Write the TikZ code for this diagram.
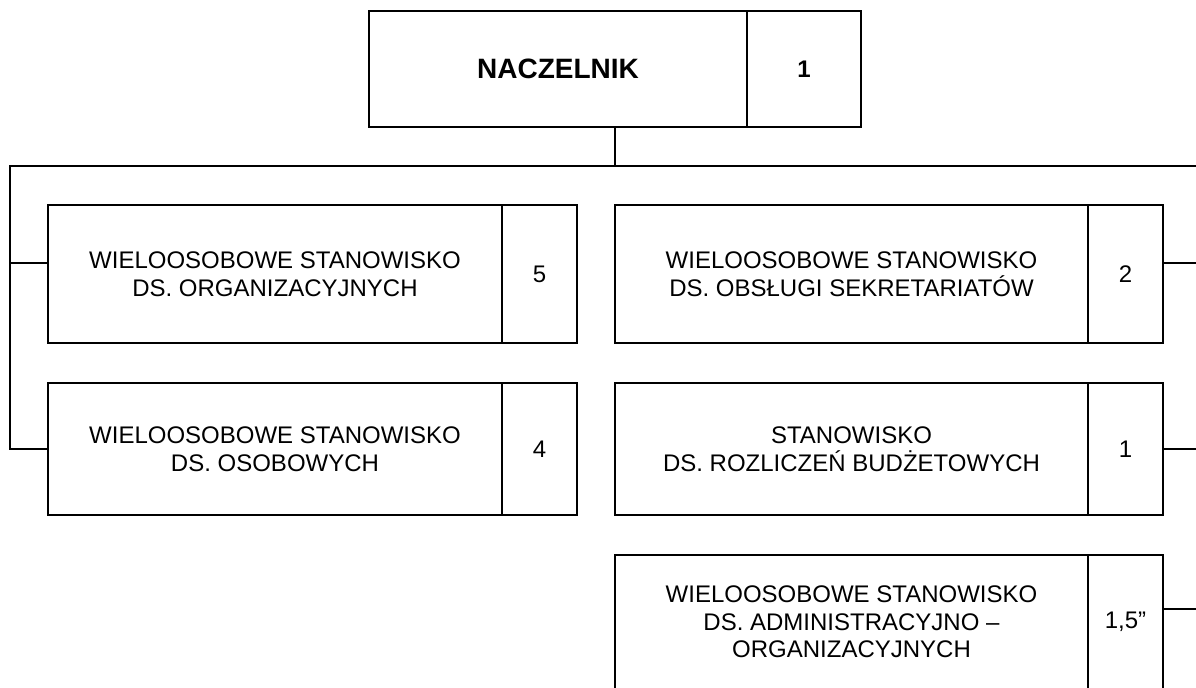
\documentclass[tikz,border=0pt]{standalone}
\usepackage{fontspec}
\setmainfont{Liberation Sans}
\usetikzlibrary{positioning,calc}
\begin{document}
\begin{tikzpicture}[x=0.5pt,y=-0.5pt,line width=1pt,
    every node/.style={outer sep=0pt,inner sep=2pt,font=\fontsize{12}{13.8}\selectfont},
    post/.style={draw,align=center},
    leftpost/.style={post,minimum width=227pt},
    rightpost/.style={post,minimum width=236.5pt},
    count/.style={draw,minimum width=37.5pt}]
  \useasboundingbox (0,0) rectangle (1196,687);
  \clip (0,0) rectangle (1196,687);
  % head of the unit
  \node[post,minimum width=189pt,minimum height=58pt,anchor=north west,
    font=\fontsize{14}{16}\selectfont\bfseries] (chief) at (369,11) {NACZELNIK};
  \node[draw,minimum width=57pt,minimum height=58pt,
    font=\fontsize{12}{14}\selectfont\bfseries,right=0pt of chief] (chiefno) {1};
  % left column
  \node[leftpost,minimum height=69pt,anchor=north west] (org) at (48,205)
    {WIELOOSOBOWE STANOWISKO\\DS. ORGANIZACYJNYCH};
  \node[count,minimum height=69pt,right=0pt of org] (orgno) {5};
  \node[leftpost,minimum height=66pt,below=20pt of org] (staff)
    {WIELOOSOBOWE STANOWISKO\\DS. OSOBOWYCH};
  \node[count,minimum height=66pt,right=0pt of staff] (staffno) {4};
  % right column
  \node[rightpost,minimum height=69pt,anchor=north west] (secr) at (615,205)
    {WIELOOSOBOWE STANOWISKO\\DS. OBSŁUGI SEKRETARIATÓW};
  \node[count,minimum height=69pt,right=0pt of secr] (secrno) {2};
  \node[rightpost,minimum height=66pt,below=20pt of secr] (budget)
    {STANOWISKO\\DS. ROZLICZEŃ BUDŻETOWYCH};
  \node[count,minimum height=66pt,right=0pt of budget] (budgetno) {1};
  \node[rightpost,minimum height=67pt,below=20pt of budget] (admin)
    {WIELOOSOBOWE STANOWISKO\\DS. ADMINISTRACYJNO –\\ORGANIZACYJNYCH};
  \node[count,minimum height=67pt,right=0pt of admin] (adminno) {1,5”};
  % connectors
  \coordinate (bus) at (10,166);
  \coordinate (busend) at (1196,166);
  \coordinate (rim) at (1196,0);
  \coordinate (chiefmid) at ($(chief.south west)!.5!(chiefno.south east)$);
  \path ([yshift=5.5pt]org.west) coordinate (orgtap)
        ([yshift=5.5pt]secrno.east) coordinate (secrtap)
        ([yshift=6.5pt]adminno.east) coordinate (admintap);
  \draw (chiefmid) -- (chiefmid |- bus);
  \draw (busend) -- (bus) |- (staff.west);
  \draw (orgtap) -- (orgtap -| bus);
  \draw (secrtap) -- (secrtap -| rim);
  \draw (budgetno.east) -- (budgetno.east -| rim);
  \draw (admintap) -- (admintap -| rim);
\end{tikzpicture}
\end{document}
